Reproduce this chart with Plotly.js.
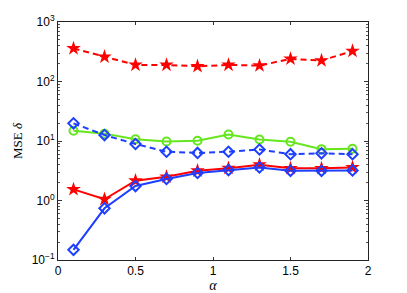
<!DOCTYPE html>
<html><head><meta charset="utf-8">
<script src="https://cdn.plot.ly/plotly-3.0.1.min.js"></script>
<style>html,body{margin:0;padding:0;background:#fff}</style>
</head><body><div id="chart" style="width:407px;height:293px"></div>
<script>
const alpha = [0.1, 0.3, 0.5, 0.7, 0.9, 1.1, 1.3, 1.5, 1.7, 1.9];
const redDashed = [360, 260, 190, 190, 180, 190, 185, 240, 225, 325];
const greenSolid = [14.9, 13.3, 10.7, 9.8, 10.1, 12.9, 10.6, 9.7, 7.3, 7.4];
const blueDashed = [19.8, 12.6, 8.9, 6.6, 6.3, 6.6, 7.2, 6.0, 6.2, 6.0];
const redSolid = [1.54, 1.05, 2.15, 2.5, 3.17, 3.5, 4.0, 3.47, 3.47, 3.6];
const blueSolid = [0.148, 0.74, 1.75, 2.3, 2.9, 3.24, 3.6, 3.16, 3.16, 3.2];
const xTicks = [0, 0.5, 1, 1.5, 2];
const xTickText = ['0', '0.5', '1', '1.5', '2'];
const yTicks = [0.1, 1, 10, 100, 1000];
const yTickText = ['10<sup>−1</sup>', '10<sup>0</sup>', '10<sup>1</sup>', '10<sup>2</sup>', '10<sup>3</sup>'];

const RED = '#ff0000', BLUE = '#1f3fff', GREEN = '#66e61e';
const traces = [
  {x: alpha, y: redDashed, mode: 'lines+markers', line: {color: RED, width: 2, dash: '6px,4px'},
   marker: {symbol: 'star', size: 11, color: RED}},
  {x: alpha, y: greenSolid, mode: 'lines+markers', line: {color: GREEN, width: 2},
   marker: {symbol: 'circle-open', size: 8, color: GREEN, line: {width: 2, color: GREEN}}},
  {x: alpha, y: blueDashed, mode: 'lines+markers', line: {color: BLUE, width: 2, dash: '6px,4px'},
   marker: {symbol: 'diamond-open', size: 8, color: BLUE, line: {width: 2, color: BLUE}}},
  {x: alpha, y: redSolid, mode: 'lines+markers', line: {color: RED, width: 2},
   marker: {symbol: 'star', size: 11, color: RED}},
  {x: alpha, y: blueSolid, mode: 'lines+markers', line: {color: BLUE, width: 2},
   marker: {symbol: 'diamond-open', size: 8, color: BLUE, line: {width: 2, color: BLUE}}}
];
const layout = {
  width: 407, height: 293,
  margin: {l: 58, r: 39, t: 22, b: 33},
  showlegend: false,
  paper_bgcolor: '#fff', plot_bgcolor: '#fff',
  font: {family: 'Liberation Sans, Arial, sans-serif', size: 12, color: '#000'},
  xaxis: {range: [0, 2], tickvals: xTicks, ticktext: xTickText, ticks: 'inside', ticklen: 3,
    tickcolor: '#333', showline: true, linecolor: '#222', linewidth: 1, mirror: 'ticks',
    showgrid: false, zeroline: false, tickfont: {size: 12},
    title: {text: '<i>α</i>', font: {family: 'Liberation Serif, Times New Roman, serif', size: 14}, standoff: 2}},
  yaxis: {type: 'log', range: [-1, 3], tickvals: yTicks, ticktext: yTickText, ticks: 'inside', ticklen: 4,
    tickcolor: '#333', showline: true, linecolor: '#222', linewidth: 1, mirror: 'ticks',
    showgrid: false, zeroline: false, tickfont: {size: 12},
    minor: {ticks: 'inside', ticklen: 2, tickcolor: '#555', showgrid: false,
      tickvals: [0.2,0.3,0.4,0.5,0.6,0.7,0.8,0.9,2,3,4,5,6,7,8,9,20,30,40,50,60,70,80,90,200,300,400,500,600,700,800,900]},
    title: {text: 'MSE <i>δ</i>', font: {family: 'Liberation Serif, Times New Roman, serif', size: 13}, standoff: 6}}
};
Plotly.newPlot('chart', traces, layout, {staticPlot: true, displayModeBar: false});
</script></body></html>
